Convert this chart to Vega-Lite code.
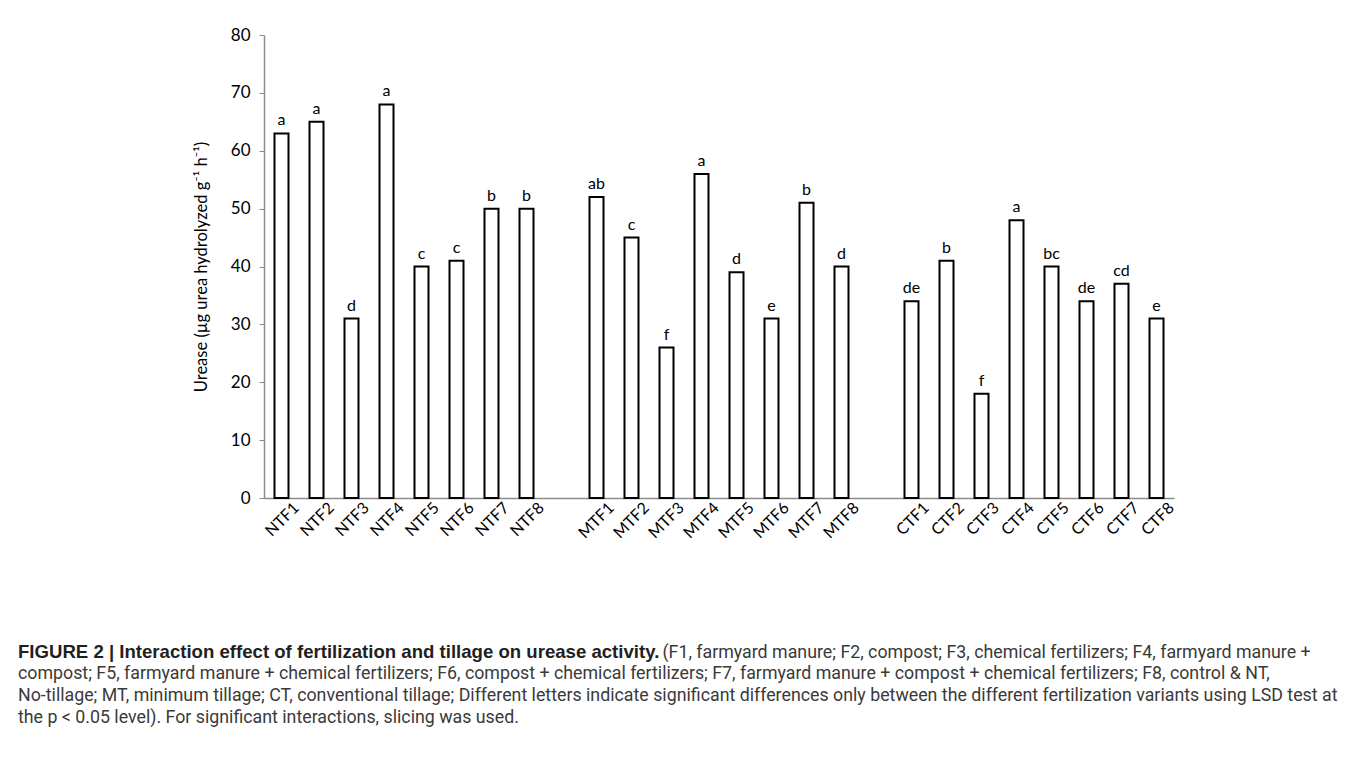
{
  "$schema": "https://vega.github.io/schema/vega-lite/v6.json",
  "width": 910,
  "height": 463,
  "autosize": {"type": "none"},
  "padding": {"left": 264, "top": 35, "right": 181, "bottom": 260},
  "background": "white",
  "config": {"view": {"stroke": null}, "font": "Lato"},
  "title": {
    "text": "FIGURE 2 | Interaction effect of fertilization and tillage on urease activity.",
    "subtitle": [
      "compost; F5, farmyard manure + chemical fertilizers; F6, compost + chemical fertilizers; F7, farmyard manure + compost + chemical fertilizers; F8, control & NT,",
      "No-tillage; MT, minimum tillage; CT, conventional tillage; Different letters indicate significant differences only between the different fertilization variants using LSD test at",
      "the p < 0.05 level). For significant interactions, slicing was used."
    ],
    "orient": "bottom",
    "anchor": "start",
    "frame": "group",
    "dx": -246,
    "offset": -18,
    "font": "Liberation Sans",
    "fontSize": 18.6,
    "fontWeight": "bold",
    "color": "#231f20",
    "subtitleFont": "Roboto",
    "subtitleFontSize": 17.8,
    "subtitleColor": "#3a3a3a",
    "subtitleLineHeight": 22,
    "subtitlePadding": 3.7
  },
  "data": {
    "values": [
      {"cat": "NTF1", "value": 63, "letter": "a"},
      {"cat": "NTF2", "value": 65, "letter": "a"},
      {"cat": "NTF3", "value": 31, "letter": "d"},
      {"cat": "NTF4", "value": 68, "letter": "a"},
      {"cat": "NTF5", "value": 40, "letter": "c"},
      {"cat": "NTF6", "value": 41, "letter": "c"},
      {"cat": "NTF7", "value": 50, "letter": "b"},
      {"cat": "NTF8", "value": 50, "letter": "b"},
      {"cat": "MTF1", "value": 52, "letter": "ab"},
      {"cat": "MTF2", "value": 45, "letter": "c"},
      {"cat": "MTF3", "value": 26, "letter": "f"},
      {"cat": "MTF4", "value": 56, "letter": "a"},
      {"cat": "MTF5", "value": 39, "letter": "d"},
      {"cat": "MTF6", "value": 31, "letter": "e"},
      {"cat": "MTF7", "value": 51, "letter": "b"},
      {"cat": "MTF8", "value": 40, "letter": "d"},
      {"cat": "CTF1", "value": 34, "letter": "de"},
      {"cat": "CTF2", "value": 41, "letter": "b"},
      {"cat": "CTF3", "value": 18, "letter": "f"},
      {"cat": "CTF4", "value": 48, "letter": "a"},
      {"cat": "CTF5", "value": 40, "letter": "bc"},
      {"cat": "CTF6", "value": 34, "letter": "de"},
      {"cat": "CTF7", "value": 37, "letter": "cd"},
      {"cat": "CTF8", "value": 31, "letter": "e"}
    ]
  },
  "encoding": {
    "x": {
      "field": "cat",
      "type": "nominal",
      "sort": null,
      "scale": {
        "domain": ["NTF1","NTF2","NTF3","NTF4","NTF5","NTF6","NTF7","NTF8"," ","MTF1","MTF2","MTF3","MTF4","MTF5","MTF6","MTF7","MTF8","  ","CTF1","CTF2","CTF3","CTF4","CTF5","CTF6","CTF7","CTF8"],
        "paddingInner": 0.6,
        "paddingOuter": 0.3
      },
      "axis": {
        "title": "(F1, farmyard manure; F2, compost; F3, chemical fertilizers; F4, farmyard manure +",
        "titleFont": "Roboto",
        "titleFontSize": 17.8,
        "titleFontWeight": "normal",
        "titleColor": "#3a3a3a",
        "titleAlign": "left",
        "titleAnchor": "start",
        "titleBaseline": "alphabetic",
        "titleX": 398,
        "titleY": 159,
        "labelAngle": -45,
        "labelAlign": "right",
        "labelBaseline": "middle",
        "labelFont": "Lato",
        "labelFontSize": 16,
        "labelColor": "#000000",
        "labelPadding": 7,
        "labelOffset": 15,
        "ticks": false,
        "domainColor": "#8c8c8c",
        "domainWidth": 1.5
      }
    },
    "y": {
      "field": "value",
      "type": "quantitative",
      "scale": {"domain": [0, 80], "nice": false},
      "axis": {
        "title": "Urease (\u00b5g urea hydrolyzed g\u207b\u00b9 h\u207b\u00b9)",
        "titleFont": "Lato",
        "titleFontSize": 16.5,
        "titleFontWeight": "normal",
        "titleColor": "#000000",
        "titlePadding": 21,
        "values": [0,10,20,30,40,50,60,70,80],
        "grid": false,
        "labelFont": "Lato",
        "labelFontSize": 17,
        "labelColor": "#000000",
        "labelPadding": 9,
        "tickSize": 5,
        "tickColor": "#8c8c8c",
        "domainColor": "#8c8c8c",
        "domainWidth": 1.5
      }
    }
  },
  "layer": [
    {
      "mark": {"type": "bar", "fill": "white", "stroke": "black", "strokeWidth": 2}
    },
    {
      "mark": {"type": "text", "font": "Lato", "fontSize": 16, "color": "#000000", "dy": -13},
      "encoding": {"text": {"field": "letter"}}
    }
  ]
}
